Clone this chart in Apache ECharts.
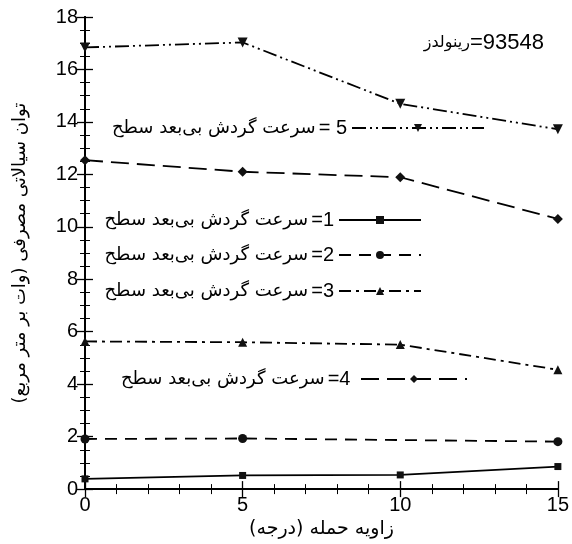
<!DOCTYPE html>
<html>
<head>
<meta charset="utf-8">
<script src="https://cdn.jsdelivr.net/npm/echarts@6/dist/echarts.min.js"></script>
<style>
html,body{margin:0;padding:0;background:#fff;}
#chart{width:572px;height:544px;}
</style>
</head>
<body>
<div id="chart"></div>
<script>
// ---- data ----
const xValues = [0, 5, 10, 15];
const s1 = [0.39, 0.52, 0.54, 0.86];
const s2 = [1.91, 1.93, 1.87, 1.81];
const s3 = [5.63, 5.60, 5.51, 4.55];
const s4 = [12.54, 12.10, 11.89, 10.30];
const s5 = [16.84, 17.03, 14.69, 13.72];
const seriesNums = ['1', '2', '3', '4', '5'];
const legendText = 'سرعت گردش بی‌بعد سطح';
const reynoldsLabel = 'رینولدز';
const reynoldsValue = '93548';
const xTitle = '\u200Fزاویه حمله (درجه)\u200F';
const yTitle = '\u200Fتوان سیالاتی مصرفی (وات بر متر مربع)\u200F';
const hiddenMarkers = {1: [2]}; // series index -> point indexes without marker

// ---- styles ----
const AR = 'DejaVu Sans';
const LAT = 'Liberation Sans';
const allSeries = [s1, s2, s3, s4, s5];
const symbols = ['rect', 'circle', 'triangle', 'diamond', 'triangle'];
const symbolSizes = [7, 9, 9, 10, 10];
const symbolRot = [0, 0, 0, 0, 180];
const dashes = ['solid', [12, 8], [12, 5, 3, 5], [18, 8], [14, 4, 2, 4, 2, 4]];

const series = allSeries.map((vals, i) => ({
  name: 's' + (i + 1),
  type: 'line',
  data: vals.map((v, j) => {
    const item = {value: [xValues[j], v]};
    if (hiddenMarkers[i] && hiddenMarkers[i].includes(j)) item.symbol = 'none';
    return item;
  }),
  symbol: symbols[i],
  symbolSize: symbolSizes[i],
  symbolRotate: symbolRot[i],
  showAllSymbol: true,
  lineStyle: {color: '#000', width: 1.8, type: dashes[i]},
  itemStyle: {color: '#111'},
  animation: false
}));

// legend placement
const legendPos = [
  {right: 150, cy: 222, w: 82, num: '=' + seriesNums[0]},
  {right: 150, cy: 257, w: 82, num: '=' + seriesNums[1]},
  {right: 150, cy: 293, w: 82, num: '=' + seriesNums[2]},
  {right: 104, cy: 381, w: 106, num: '=' + seriesNums[3] + ' '},
  {right: 87, cy: 130, w: 132, num: '= ' + seriesNums[4]}
];
const legends = legendPos.map((p, i) => ({
  data: ['s' + (i + 1)],
  right: p.right,
  top: p.cy - 12,
  padding: 0,
  orient: 'horizontal',
  align: 'right',
  itemWidth: p.w,
  itemHeight: 10,
  selectedMode: false,
  formatter: () => '{a|' + legendText + '}{b|' + p.num + '}',
  textStyle: {
    color: '#000',
    rich: {
      a: {fontFamily: AR, fontSize: 18, color: '#000', lineHeight: 24, padding: [0, 3, 0, 0]},
      b: {fontFamily: LAT, fontSize: 20, color: '#000', lineHeight: 24}
    }
  }
}));

const chart = echarts.init(document.getElementById('chart'), null, {renderer: 'canvas'});
chart.setOption({
  backgroundColor: '#fff',
  animation: false,
  title: {
    text: '{a|' + reynoldsLabel + '}{b|=' + reynoldsValue + '}',
    right: 28,
    top: 32,
    padding: 0,
    textStyle: {
      fontWeight: 'normal',
      rich: {
        a: {fontFamily: AR, fontSize: 16, color: '#000', fontWeight: 'normal'},
        b: {fontFamily: LAT, fontSize: 22, color: '#000', fontWeight: 'normal'}
      }
    }
  },
  legend: legends,
  grid: {left: 85, right: 14, top: 17, bottom: 52, containLabel: false},
  xAxis: [{
    type: 'value', min: 0, max: 15, interval: 5,
    position: 'bottom',
    name: xTitle, nameLocation: 'middle', nameGap: 24,
    nameTextStyle: {fontFamily: AR, fontSize: 19, color: '#000'},
    axisLine: {show: true, lineStyle: {color: '#000', width: 2}},
    axisTick: {show: true, inside: true, length: 8, lineStyle: {color: '#000', width: 1.3}},
    minorTick: {show: true, splitNumber: 5, length: 5, lineStyle: {color: '#000', width: 1}},
    axisLabel: {fontFamily: LAT, fontSize: 20, color: '#000', margin: 6},
    splitLine: {show: false}
  }, {
    type: 'value', min: 0, max: 15, interval: 5,
    position: 'top',
    axisLine: {show: true, lineStyle: {color: '#000', width: 2}},
    axisTick: {show: true, inside: true, length: 8, lineStyle: {color: '#000', width: 1.3}},
    minorTick: {show: true, splitNumber: 5, length: 5, lineStyle: {color: '#000', width: 1}},
    axisLabel: {show: false},
    splitLine: {show: false}
  }],
  yAxis: [{
    type: 'value', min: 0, max: 18, interval: 2,
    position: 'left',
    name: yTitle, nameLocation: 'middle', nameGap: 56, nameRotate: 90,
    nameTextStyle: {fontFamily: AR, fontSize: 18, color: '#000'},
    axisLine: {show: true, lineStyle: {color: '#000', width: 2}},
    axisTick: {show: true, inside: true, length: 8, lineStyle: {color: '#000', width: 1.3}},
    minorTick: {show: true, splitNumber: 4, length: 5, lineStyle: {color: '#000', width: 1}},
    axisLabel: {fontFamily: LAT, fontSize: 20, color: '#000', margin: 7},
    splitLine: {show: false}
  }, {
    type: 'value', min: 0, max: 18, interval: 2,
    position: 'right',
    axisLine: {show: true, lineStyle: {color: '#000', width: 2}},
    axisTick: {show: true, inside: true, length: 8, lineStyle: {color: '#000', width: 1.3}},
    minorTick: {show: true, splitNumber: 4, length: 5, lineStyle: {color: '#000', width: 1}},
    axisLabel: {show: false},
    splitLine: {show: false}
  }],
  series: series
});
</script>
</body>
</html>
